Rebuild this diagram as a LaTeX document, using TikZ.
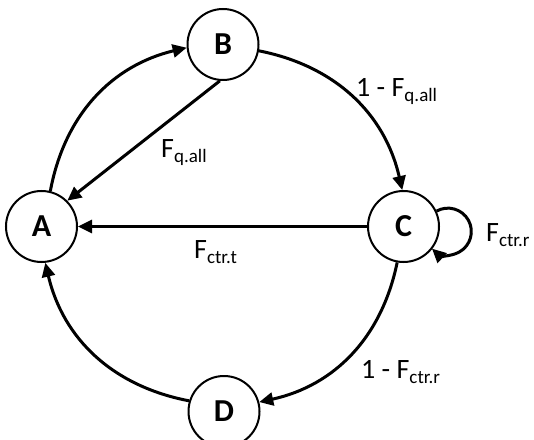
\documentclass[tikz,border=0pt]{standalone}
\usepackage{fontspec}
\setmainfont{Carlito}
\usetikzlibrary{arrows.meta}
\newcommand{\mysub}[1]{\raisebox{-5pt}{\fontsize{19}{19}\selectfont #1}}
\begin{document}
\begin{tikzpicture}[x=1pt,y=1pt,
  state/.style={circle,draw,line width=2pt,minimum size=71pt,inner sep=0pt,
    font=\fontsize{32}{32}\selectfont\bfseries},
  conn/.style={line width=3pt,-{Triangle[length=14pt,width=13pt]}},
  lbl/.style={font=\fontsize{28}{28}\selectfont,inner sep=0pt,anchor=base west}]
\clip (0,0) rectangle (534,439);
\node[state] (A) at (41.5,212.5) {A};
\node[state] (B) at (223,394.5) {B};
\node[state] (C) at (403.5,212.5) {C};
\node[state] (D) at (224,27.5) {D};
\draw[conn] (A.76) to[bend left=33] (B.185);
\draw[conn] (B.-10) to[bend left=33] (C.92);
\draw[conn] (C.260) to[bend left=33] (D.15);
\draw[conn] (D.163) to[bend left=33] (A.276);
\draw[conn] (B.265) -- (A.45);
\draw[conn] (C.west) -- (A.east);
\draw[conn] (C.25) arc[start angle=119,end angle=-133,radius=23.4];
\node[lbl] (l1) at (356,342) {1 - F\mysub{q.all}};
\node[lbl] (l2) at (161,281) {F\mysub{q.all}};
\node[lbl] (l3) at (194,181) {F\mysub{ctr.t}};
\node[lbl] (l4) at (486,197) {F\mysub{ctr.r}};
\node[lbl] (l5) at (361,61) {1 - F\mysub{ctr.r}};
\end{tikzpicture}
\end{document}
